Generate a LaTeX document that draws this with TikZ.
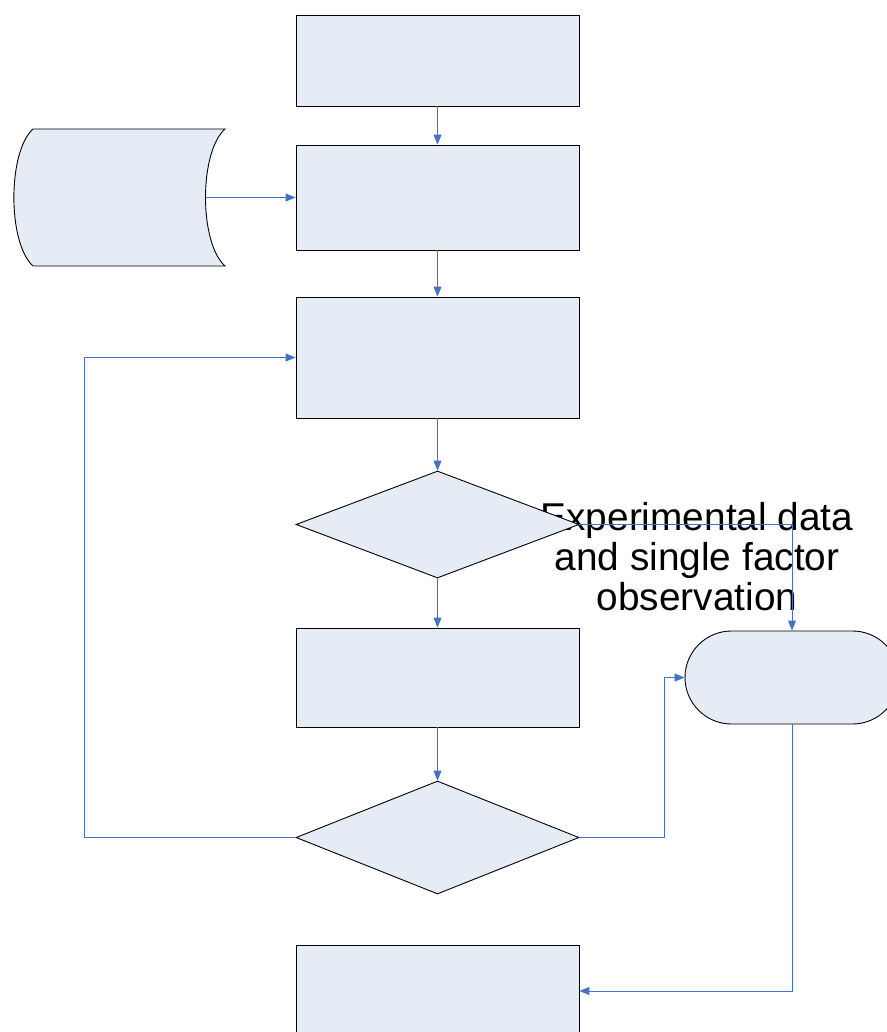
\documentclass[tikz,border=0pt]{standalone}
\usepackage{fontspec}
\setmainfont{Liberation Sans}
\usetikzlibrary{arrows.meta,shapes.geometric,shapes.misc}
\definecolor{boxfill}{RGB}{230,236,246}
\definecolor{linkblue}{RGB}{68,114,196}
\begin{document}
\begin{tikzpicture}[x=1pt,y=-1pt,
  procbox/.style={draw=black,line width=0.9pt,fill=boxfill,minimum width=283pt,inner sep=0pt},
  decision/.style={draw=black,line width=0.9pt,fill=boxfill,shape=diamond,minimum width=283pt,inner sep=0pt},
  conn/.style={draw=linkblue,line width=1pt,-{Triangle[length=10pt,width=8pt]}},
  plainconn/.style={draw=linkblue,line width=1pt}]
\useasboundingbox (0,0) rectangle (886,1032);

% caption text (shapes are painted over it)
\node[anchor=base,align=center,inner sep=0pt,font=\fontsize{38.8}{40}\selectfont] (note) at (697,610)
  {Experimental data\\and single factor\\observation};

% process boxes
\node[procbox,minimum height=91pt] (b1) at (437.5,60.5) {};
\node[procbox,minimum height=105pt] (b2) at (437.5,197.5) {};
\node[procbox,minimum height=121pt] (b3) at (437.5,357.5) {};
\node[procbox,minimum height=99pt] (b4) at (437.5,677.5) {};
\node[procbox,minimum height=92pt] (b5) at (437.5,991) {};

% decisions
\node[decision,minimum height=107pt] (d1) at (437.5,524.5) {};
\node[decision,minimum height=113pt] (d2) at (437.5,837.5) {};

% stored data shape
\draw[black,line width=0.9pt,fill=boxfill]
  (33,129) -- (225,129) .. controls (199,152) and (199,243) .. (225,266)
  -- (33,266) .. controls (7.5,243) and (7.5,152) .. (33,129) -- cycle;
\coordinate (store) at (206,197.5);

% terminator
\node[draw=black,line width=0.9pt,fill=boxfill,shape=rounded rectangle,
  minimum width=214pt,minimum height=93pt,inner sep=0pt] (term) at (792,677.5) {};

% helper corner points
\coordinate (loopL) at (84,357.5);
\coordinate (jog) at (664,0);

% connectors
\draw[conn] (b1.south) -- (b2.north);
\draw[conn] (store) -- (b2.west);
\draw[conn] (b2.south) -- (b3.north);
\draw[conn] (b3.south) -- (d1.north);
\draw[conn] (d1.south) -- (b4.north);
\draw[conn] (b4.south) -- (d2.north);
\draw[conn] (d1.east) -| (term.north);
\draw[conn] (d2.east) -- (d2.east -| jog) |- (term.west);
\draw[conn] (d2.west) -| (loopL) -- (b3.west);
\draw[conn] (term.south) |- (b5.east);
\end{tikzpicture}
\end{document}
